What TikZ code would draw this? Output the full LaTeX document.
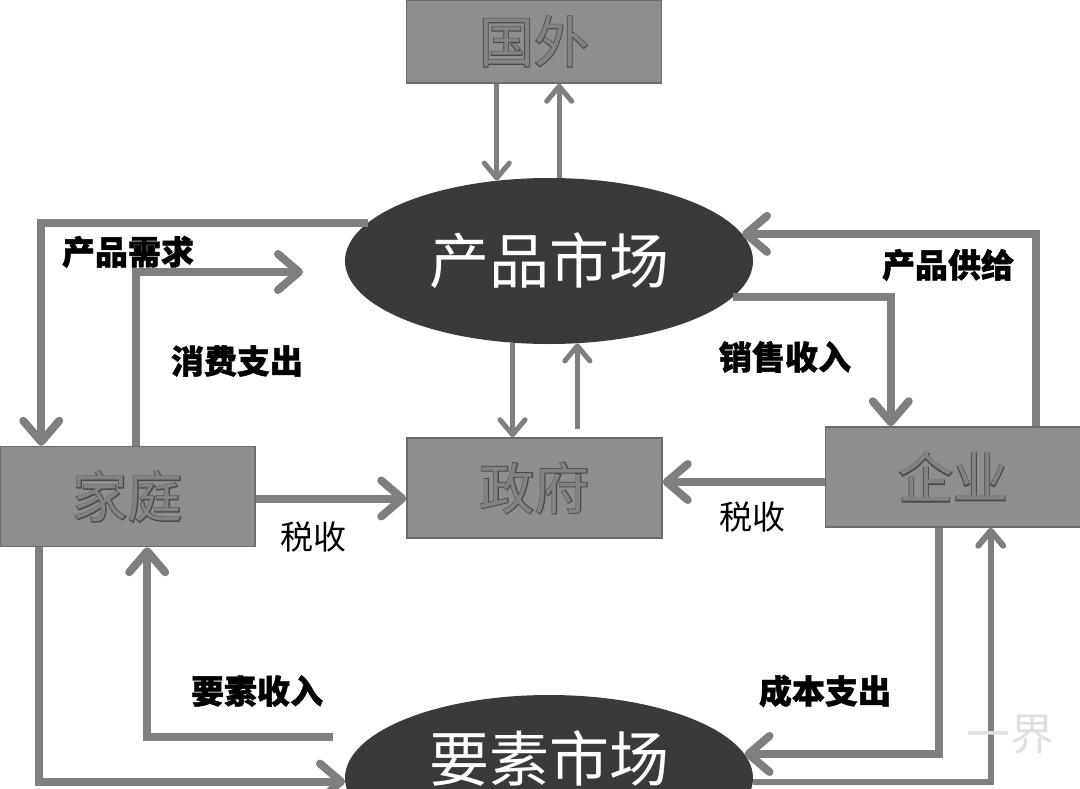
\documentclass[tikz,border=0pt]{standalone}
\usepackage{fontspec}
\usepackage{tikz}
\usetikzlibrary{arrows.meta,positioning,calc,shapes.geometric}
\newfontfamily\cjk{Noto Sans CJK SC}[BoldFeatures={FakeBold=1.2}]
\newfontfamily\cjkrim{Noto Sans CJK SC}[FakeBold=3]
\definecolor{flowgray}{HTML}{7F7F7F}
\definecolor{boxgray}{HTML}{8E8E8E}
\definecolor{boxline}{HTML}{6C6C6C}
\definecolor{rimgray}{HTML}{4A4A4A}
\definecolor{mktdark}{HTML}{3A3A3A}
% outlined box text
\newcommand{\rimtext}[1]{\makebox[0pt][l]{\cjkrim\color{rimgray}#1}{\color{boxgray!92!black}#1}}

\begin{document}
\begin{tikzpicture}[x=1pt,y=-1pt,
  agent/.style={rectangle,draw=boxline,line width=1.5pt,fill=boxgray,inner sep=0pt,minimum width=255pt,minimum height=100pt,font=\cjk\fontsize{55}{60}\selectfont},
  mkt/.style={ellipse,fill=mktdark,inner sep=0pt,minimum width=408pt,minimum height=166pt},
  mtxt/.style={inner sep=0pt,text=white,font=\cjk\fontsize{60}{66}\selectfont},
  flow/.style={draw=flowgray,line width=8pt,-{Straight Barb[length=21pt,width=36pt,round]}},
  tflow/.style={flow,line width=5pt,-{Straight Barb[length=15pt,width=25pt,round]}},
  lbl/.style={inner sep=0pt,font=\cjk\bfseries\fontsize{33}{36}\selectfont},
  tax/.style={inner sep=0pt,font=\cjk\fontsize{33}{36}\selectfont}]
  \useasboundingbox (0,0) rectangle (1080,788);
  \clip (0,0) rectangle (1080,788);

  % sectors and markets
  \node[agent,minimum height=83pt] (gw) at (534,41.5) {\rimtext{国外}};
  \node[agent] (jt) at (127.5,496.5) {\rimtext{家庭}};
  \node[agent] (zf) at (534.5,488) {\rimtext{政府}};
  \node[agent] (qy) at (953,477) {\rimtext{企业}};
  \node[mkt] (pm) at (549,261) {};
  \node[mtxt] (pmt) at (549,261) {产品市场};
  \node[mkt] (fm) at (549,778) {};
  \node[mtxt] (fmt) at (549,758) {要素市场};

  % free ends
  \coordinate (cs) at (303,272);
  \coordinate (fi) at (333,737);

  % flows
  \draw[tflow] (gw.south -| pm.123) -- (pm.123);
  \draw[tflow] (pm.83) -- (gw.south -| pm.83);
  \draw[tflow] (pm.-114) -- (zf.north -| pm.-114);
  \draw[tflow] ([yshift=8pt]zf.north -| pm.-71) -- (pm.-71);
  \draw[flow] (pm.168) -| ([xshift=42pt]jt.north west);
  \draw[flow] ([xshift=137pt]jt.north west) |- (cs);
  \draw[flow] ([xshift=211pt]qy.north west) |- (pm.8);
  \draw[flow] (pm.-11) -| ([xshift=66pt]qy.north west);
  \draw[flow] ([yshift=-2pt]jt.east) -- ([yshift=-2pt]jt.east -| zf.west);
  \draw[flow] ([yshift=-5pt]qy.west) -- ([yshift=-5pt]qy.west -| zf.east);
  \draw[flow] (fi) -| ([xshift=148pt]jt.south west);
  \draw[flow] ([xshift=40pt]jt.south west) |- (fm.181);
  \draw[flow] ([xshift=114pt]qy.south west) |- (fm.7);
  \draw[tflow,line width=6pt] (fm.-1) -| ([xshift=166pt]qy.south west);

  % labels
  \node[lbl] (ldemand) at (128,252) {产品需求};
  \node[lbl] (lspend) at (237,361) {消费支出};
  \node[lbl] (lsupply) at (948,265) {产品供给};
  \node[lbl] (lsales) at (785,357) {销售收入};
  \node[tax] (ltaxh) at (313,537) {税收};
  \node[tax] (ltaxf) at (752,517) {税收};
  \node[lbl] (lincome) at (257,691) {要素收入};
  \node[lbl] (lcost) at (825,691) {成本支出};
  \node[inner sep=0pt,text=black!12,font=\cjk\fontsize{44}{48}\selectfont] (wm) at (1010,735) {一界};
\end{tikzpicture}
\end{document}
